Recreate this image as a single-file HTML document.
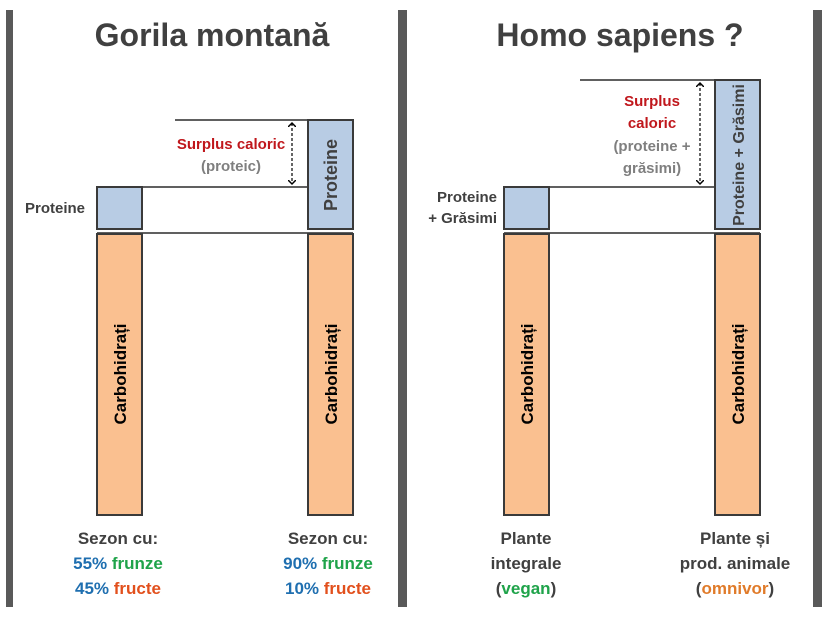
<!DOCTYPE html>
<html><head><meta charset="utf-8"><style>
html,body{margin:0;padding:0;background:#fff;}
svg{display:block;}
text{font-family:"Liberation Sans",sans-serif;font-weight:bold;}
</style></head><body>
<svg width="828" height="617" viewBox="0 0 828 617" xmlns="http://www.w3.org/2000/svg">
<defs>
<marker id="ah" markerWidth="8" markerHeight="8" refX="4" refY="4" orient="auto-start-reverse" markerUnits="userSpaceOnUse">
<path d="M0,0 L4,4 L0,8" fill="none" stroke="#000" stroke-width="1.5"/>
</marker>
</defs>
<rect x="0" y="0" width="828" height="617" fill="#fff"/>
<rect x="6" y="10" width="7" height="597" fill="#595959"/>
<rect x="398" y="10" width="9" height="597" fill="#595959"/>
<rect x="813" y="10" width="9" height="597" fill="#595959"/>

<text x="212" y="46" font-size="32" fill="#404040" text-anchor="middle">Gorila montană</text>
<text x="620" y="46" font-size="32" fill="#404040" text-anchor="middle">Homo sapiens ?</text>

<!-- left panel -->
<line x1="175" y1="120" x2="308" y2="120" stroke="#000" stroke-width="1.2"/>
<line x1="142" y1="187" x2="308" y2="187" stroke="#000" stroke-width="1.2"/>
<line x1="97" y1="233" x2="353" y2="233" stroke="#000" stroke-width="1.2"/>
<rect x="97" y="187" width="45" height="42" fill="#b8cce4" stroke="#3a3a3a" stroke-width="2"/>
<rect x="308" y="120" width="45" height="109" fill="#b8cce4" stroke="#3a3a3a" stroke-width="2"/>
<rect x="97" y="234" width="45" height="281" fill="#fac090" stroke="#3a3a3a" stroke-width="2"/>
<rect x="308" y="234" width="45" height="281" fill="#fac090" stroke="#3a3a3a" stroke-width="2"/>
<line x1="292" y1="123" x2="292" y2="184" stroke="#000" stroke-width="1.2" stroke-dasharray="3,2" marker-start="url(#ah)" marker-end="url(#ah)"/>
<text x="231" y="149" font-size="15" fill="#c0171c" text-anchor="middle">Surplus caloric</text>
<text x="231" y="171" font-size="15" fill="#7f7f7f" text-anchor="middle">(proteic)</text>
<text x="25" y="213" font-size="15" fill="#404040">Proteine</text>
<text transform="translate(337,175) rotate(-90)" font-size="18" fill="#404040" text-anchor="middle">Proteine</text>
<text transform="translate(126,374) rotate(-90)" font-size="17" fill="#000" text-anchor="middle">Carbohidrați</text>
<text transform="translate(337,374) rotate(-90)" font-size="17" fill="#000" text-anchor="middle">Carbohidrați</text>

<text x="118" y="544" font-size="17" fill="#404040" text-anchor="middle">Sezon cu:</text>
<text x="118" y="569" font-size="17" text-anchor="middle"><tspan fill="#1f6fb0">55%</tspan><tspan fill="#1fa34a"> frunze</tspan></text>
<text x="118" y="594" font-size="17" text-anchor="middle"><tspan fill="#1f6fb0">45%</tspan><tspan fill="#e2501d"> fructe</tspan></text>
<text x="328" y="544" font-size="17" fill="#404040" text-anchor="middle">Sezon cu:</text>
<text x="328" y="569" font-size="17" text-anchor="middle"><tspan fill="#1f6fb0">90%</tspan><tspan fill="#1fa34a"> frunze</tspan></text>
<text x="328" y="594" font-size="17" text-anchor="middle"><tspan fill="#1f6fb0">10%</tspan><tspan fill="#e2501d"> fructe</tspan></text>

<!-- right panel -->
<line x1="580" y1="80" x2="715" y2="80" stroke="#000" stroke-width="1.2"/>
<line x1="549" y1="187" x2="715" y2="187" stroke="#000" stroke-width="1.2"/>
<line x1="504" y1="233" x2="760" y2="233" stroke="#000" stroke-width="1.2"/>
<rect x="504" y="187" width="45" height="42" fill="#b8cce4" stroke="#3a3a3a" stroke-width="2"/>
<rect x="715" y="80" width="45" height="149" fill="#b8cce4" stroke="#3a3a3a" stroke-width="2"/>
<rect x="504" y="234" width="45" height="281" fill="#fac090" stroke="#3a3a3a" stroke-width="2"/>
<rect x="715" y="234" width="45" height="281" fill="#fac090" stroke="#3a3a3a" stroke-width="2"/>
<line x1="700" y1="83" x2="700" y2="184" stroke="#000" stroke-width="1.2" stroke-dasharray="3,2" marker-start="url(#ah)" marker-end="url(#ah)"/>
<text x="652" y="106" font-size="15" fill="#c0171c" text-anchor="middle">Surplus</text>
<text x="652" y="128" font-size="15" fill="#c0171c" text-anchor="middle">caloric</text>
<text x="652" y="151" font-size="15" fill="#7f7f7f" text-anchor="middle">(proteine +</text>
<text x="652" y="173" font-size="15" fill="#7f7f7f" text-anchor="middle">grăsimi)</text>
<text x="497" y="202" font-size="15" fill="#404040" text-anchor="end">Proteine</text>
<text x="497" y="223" font-size="15" fill="#404040" text-anchor="end">+ Grăsimi</text>
<text transform="translate(744,155) rotate(-90)" font-size="16" fill="#404040" text-anchor="middle">Proteine + Grăsimi</text>
<text transform="translate(533,374) rotate(-90)" font-size="17" fill="#000" text-anchor="middle">Carbohidrați</text>
<text transform="translate(744,374) rotate(-90)" font-size="17" fill="#000" text-anchor="middle">Carbohidrați</text>

<text x="526" y="544" font-size="17" fill="#404040" text-anchor="middle">Plante</text>
<text x="526" y="569" font-size="17" fill="#404040" text-anchor="middle">integrale</text>
<text x="526" y="594" font-size="17" fill="#404040" text-anchor="middle">(<tspan fill="#1fa34a">vegan</tspan>)</text>
<text x="735" y="544" font-size="17" fill="#404040" text-anchor="middle">Plante și</text>
<text x="735" y="569" font-size="17" fill="#404040" text-anchor="middle">prod. animale</text>
<text x="735" y="594" font-size="17" fill="#404040" text-anchor="middle">(<tspan fill="#e07b2a">omnivor</tspan>)</text>
</svg>
</body></html>
